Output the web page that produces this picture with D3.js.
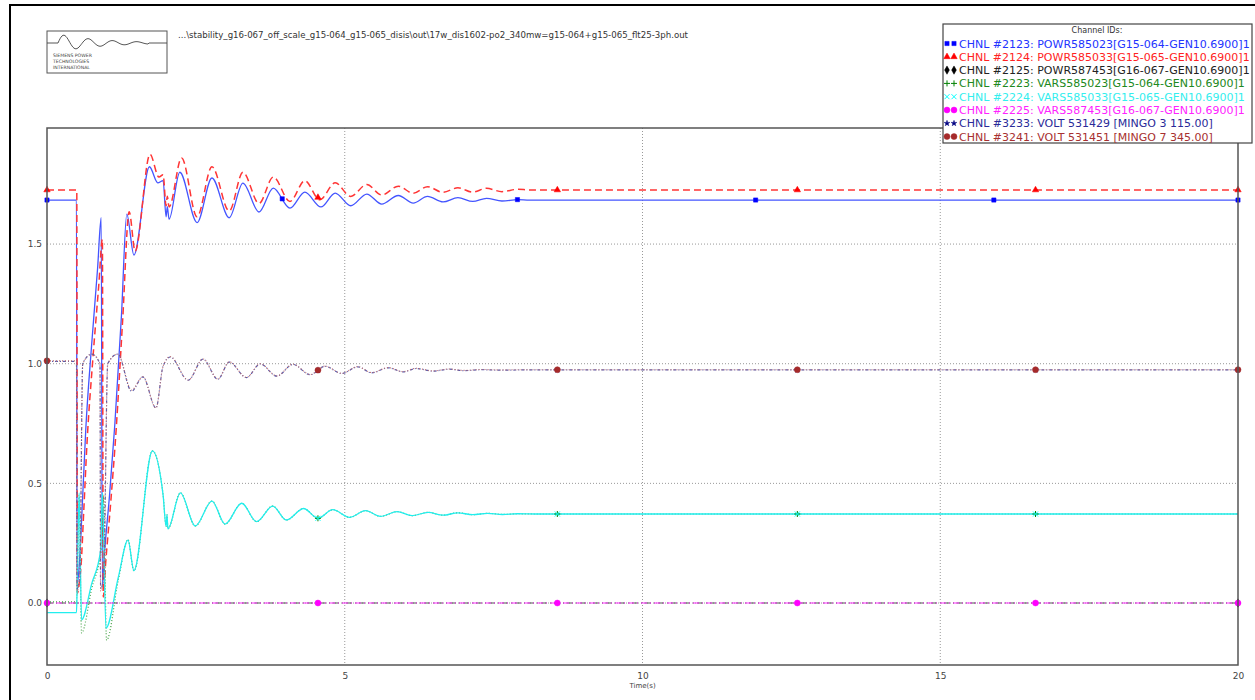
<!DOCTYPE html>
<html lang="en">
<head>
<meta charset="UTF-8">
<title>Channel plot</title>
<style>
body { margin: 0; background: #fff; }
svg { display: block; font-family: "DejaVu Sans", sans-serif; }
.grid line { stroke: #999; stroke-width: 1; stroke-dasharray: 1,2; }
.tick-label { font-size: 9px; fill: #444; }
</style>
</head>
<body>
<div id="chart"></div>
<script src="https://cdnjs.cloudflare.com/ajax/libs/d3/7.8.5/d3.min.js"></script>
<script>

// time (s) and values, one array pair per channel
let powr585023_t = [0, 0.495, 0.505, 0.53, 0.55, 0.6, 0.65, 0.75, 0.85, 0.91, 0.93, 0.96, 1.05, 1.14, 1.25, 1.34, 1.46, 1.72, 1.86, 1.95, 2.0, 2.02, 2.05, 2.23, 2.52, 2.77, 3.06, 3.29, 3.56, 3.8, 4.08, 4.33, 4.6, 4.84, 5.1, 5.37, 5.62, 5.9, 6.15, 6.39, 6.65, 6.9, 7.15, 7.38, 7.64, 7.91, 8.1, 20];
let powr585023_v = [1.684, 1.684, 0.08, 0.12, 0.19, 0.45, 0.72, 1.08, 1.40, 1.61, 0.075, 0.19, 0.45, 0.75, 1.2, 1.625, 1.454, 1.823, 1.756, 1.765, 1.614, 1.656, 1.604, 1.80, 1.59, 1.776, 1.61, 1.755, 1.634, 1.734, 1.65, 1.717, 1.655, 1.713, 1.66, 1.709, 1.667, 1.703, 1.671, 1.699, 1.676, 1.694, 1.678, 1.691, 1.68, 1.686, 1.684, 1.684];

let powr585033_t = [0, 0.5, 0.51, 0.54, 0.57, 0.62, 0.67, 0.77, 0.87, 0.93, 0.945, 0.98, 1.07, 1.16, 1.27, 1.38, 1.48, 1.73, 1.88, 1.95, 2.0, 2.02, 2.05, 2.26, 2.52, 2.77, 3.06, 3.29, 3.56, 3.8, 4.08, 4.33, 4.58, 4.84, 5.1, 5.37, 5.62, 5.9, 6.15, 6.39, 6.65, 6.9, 7.15, 7.38, 7.64, 7.91, 8.1, 20];
let powr585033_v = [1.726, 1.726, 0.04, 0.08, 0.15, 0.40, 0.66, 1.02, 1.33, 1.52, 0.025, 0.15, 0.42, 0.72, 1.18, 1.635, 1.47, 1.875, 1.78, 1.79, 1.66, 1.70, 1.655, 1.86, 1.614, 1.823, 1.638, 1.80, 1.67, 1.78, 1.678, 1.765, 1.685, 1.756, 1.699, 1.749, 1.705, 1.742, 1.712, 1.74, 1.716, 1.735, 1.717, 1.733, 1.719, 1.729, 1.726, 1.726];

let powr587453_t = [0, 20];
let powr587453_v = [0, 0];

let vars585023_t = [0, 0.495, 0.505, 0.54, 0.58, 0.75, 0.92, 0.95, 1.0, 1.2, 1.36, 1.46, 1.77, 1.95, 2.0, 2.015, 2.03, 2.24, 2.49, 2.77, 2.99, 3.27, 3.52, 3.79, 4.02, 4.31, 4.55, 4.8, 5.08, 5.35, 5.6, 5.88, 6.13, 6.4, 6.65, 6.9, 7.15, 7.4, 7.65, 7.9, 8.2, 20];
let vars585023_v = [0.005, 0.005, 0.05, 0.45, -0.125, 0.06, 0.236, 0.45, -0.155, 0.1, 0.265, 0.135, 0.636, 0.45, 0.32, 0.37, 0.31, 0.46, 0.322, 0.426, 0.33, 0.417, 0.34, 0.405, 0.347, 0.395, 0.354, 0.39, 0.358, 0.386, 0.362, 0.382, 0.365, 0.379, 0.367, 0.377, 0.369, 0.375, 0.37, 0.373, 0.372, 0.372];

let vars585033_t = [0, 0.495, 0.505, 0.54, 0.58, 0.75, 0.9, 0.93, 0.99, 1.2, 1.36, 1.46, 1.77, 1.95, 2.0, 2.015, 2.03, 2.24, 2.49, 2.77, 2.99, 3.27, 3.52, 3.79, 4.02, 4.31, 4.55, 4.8, 5.08, 5.35, 5.6, 5.88, 6.13, 6.4, 6.65, 6.9, 7.15, 7.4, 7.65, 7.9, 8.2, 20];
let vars585033_v = [-0.04, -0.04, 0.05, 0.46, -0.07, 0.08, 0.22, 0.46, -0.105, 0.11, 0.263, 0.135, 0.636, 0.45, 0.32, 0.37, 0.31, 0.46, 0.322, 0.426, 0.33, 0.417, 0.34, 0.405, 0.347, 0.395, 0.354, 0.39, 0.358, 0.386, 0.362, 0.382, 0.365, 0.379, 0.367, 0.377, 0.369, 0.375, 0.37, 0.373, 0.372, 0.372];

let vars587453_t = [0, 20];
let vars587453_v = [0, 0];

let volt531429_t = [0, 0.495, 0.505, 0.55, 0.6, 0.75, 0.89, 0.9, 0.95, 1.02, 1.19, 1.42, 1.61, 1.83, 1.95, 2.07, 2.37, 2.62, 2.87, 3.06, 3.35, 3.58, 3.86, 4.13, 4.42, 4.67, 4.95, 5.22, 5.45, 5.73, 5.98, 6.2, 6.48, 6.75, 7.0, 7.3, 7.6, 8.0, 20];
let volt531429_v = [1.01, 1.01, 0.06, 0.1, 1.0, 1.04, 1.0, 0.06, 0.1, 1.0, 1.04, 0.885, 0.945, 0.815, 0.99, 1.028, 0.931, 1.019, 0.935, 1.007, 0.942, 0.999, 0.948, 0.997, 0.954, 0.989, 0.959, 0.987, 0.962, 0.983, 0.966, 0.98, 0.969, 0.977, 0.971, 0.975, 0.973, 0.974, 0.974];

let volt531451_t = [0, 0.495, 0.505, 0.55, 0.6, 0.75, 0.89, 0.9, 0.95, 1.02, 1.19, 1.42, 1.61, 1.83, 1.95, 2.07, 2.37, 2.62, 2.87, 3.06, 3.35, 3.58, 3.86, 4.13, 4.42, 4.67, 4.95, 5.22, 5.45, 5.73, 5.98, 6.2, 6.48, 6.75, 7.0, 7.3, 7.6, 8.0, 20];
let volt531451_v = [1.012, 1.012, 0.05, 0.1, 1.0, 1.04, 1.0, 0.05, 0.1, 1.0, 1.04, 0.89, 0.946, 0.815, 0.99, 1.03, 0.932, 1.02, 0.936, 1.008, 0.943, 1.0, 0.949, 0.998, 0.955, 0.99, 0.96, 0.988, 0.963, 0.984, 0.967, 0.981, 0.97, 0.978, 0.972, 0.976, 0.974, 0.975, 0.975];

// where the markers sit along each line (s)
let marks_a = [0, 3.95, 7.9, 11.9, 15.9, 20];
let marks_b = [0, 4.55, 8.57, 12.6, 16.6, 20];
let marks_c = [4.55, 8.57, 12.6, 16.6];

let xTicks = [0, 5, 10, 15, 20];
let yTicks = [0.0, 0.5, 1.0, 1.5];

let channels = [
  { label: "CHNL #2123: POWR585023[G15-064-GEN10.6900]1", t: powr585023_t, v: powr585023_v, color: "#0000ff", line: "#4455ff", dash: null, width: 1.3, marker: "square", marks: marks_a, text: "#2233ff" },
  { label: "CHNL #2124: POWR585033[G15-065-GEN10.6900]1", t: powr585033_t, v: powr585033_v, color: "#ff0000", line: "#ff3535", dash: "7,4", width: 1.5, marker: "triangle", marks: marks_b, text: "#ff2222" },
  { label: "CHNL #2125: POWR587453[G16-067-GEN10.6900]1", t: powr587453_t, v: powr587453_v, color: "#000000", line: "#555555", dash: "6,3,1,3", width: 1.2, marker: "diamond", marks: [0, 20], text: "#222222" },
  { label: "CHNL #2223: VARS585023[G15-064-GEN10.6900]1", t: vars585023_t, v: vars585023_v, color: "#008000", line: "#40a040", dash: "1,2", width: 1.2, marker: "plus", marks: marks_c, text: "#208820" },
  { label: "CHNL #2224: VARS585033[G15-065-GEN10.6900]1", t: vars585033_t, v: vars585033_v, color: "#00ffff", line: "#22eeee", dash: null, width: 1.3, marker: "cross", marks: marks_c, text: "#33eeee" },
  { label: "CHNL #2225: VARS587453[G16-067-GEN10.6900]1", t: vars587453_t, v: vars587453_v, color: "#ff00ff", line: "#ff33ff", dash: "6,3,1,3", width: 1.2, marker: "circle", marks: marks_b, text: "#ff22ff", dashOffset: 4 },
  { label: "CHNL #3233: VOLT 531429 [MINGO 3 115.00]", t: volt531429_t, v: volt531429_v, color: "#000080", line: "#5a5aa8", dash: "3,2,1,2", width: 1.2, marker: "star", marks: marks_b, text: "#2a2a99" },
  { label: "CHNL #3241: VOLT 531451 [MINGO 7 345.00]", t: volt531451_t, v: volt531451_v, color: "#a52a2a", line: "#c07070", dash: "1,2", width: 1.1, marker: "circle", marks: marks_b, text: "#a83030" }
];

const W = 1255, H = 700;
const svg = d3.select("#chart").append("svg").attr("width", W).attr("height", H);

const x = d3.scaleLinear().domain([0, 20]).range([47, 1238]);
const y = d3.scaleLinear().domain([-0.259, 1.985]).range([665, 128]);

// page frame
svg.append("path").attr("d", "M10,700 V5 H1255").attr("fill", "none").attr("stroke", "#000").attr("stroke-width", 2);

// logo box
const logo = svg.append("g").attr("transform", "translate(47,31)");
logo.append("rect").attr("width", 120).attr("height", 42).attr("fill", "#fff").attr("stroke", "#555").attr("stroke-width", 1);
let wave = [];
for (let i = 0; i <= 120; i++) {
  let py = 12;
  if (i > 11 && i < 102) {
    let s = (i - 11) / 91;
    py = 12 - 9 * Math.exp(-2.2 * s) * Math.sin(s * Math.PI * 7.5);
  }
  wave.push([i, py]);
}
logo.append("path").attr("d", d3.line()(wave)).attr("fill", "none").attr("stroke", "#444").attr("stroke-width", 0.9);
["SIEMENS POWER", "TECHNOLOGIES", "INTERNATIONAL"].forEach((s, i) => {
  logo.append("text").attr("x", 6).attr("y", 26 + i * 5.8).attr("font-size", 4.6).attr("fill", "#444").text(s);
});

// file name
svg.append("text").attr("x", 178).attr("y", 38).attr("font-size", 8.2).attr("fill", "#333")
  .attr("textLength", 510).attr("lengthAdjust", "spacingAndGlyphs")
  .text("...\\stability_g16-067_off_scale_g15-064_g15-065_disis\\out\\17w_dis1602-po2_340mw=g15-064+g15-065_flt25-3ph.out");

// grid
const grid = svg.append("g").attr("class", "grid");
grid.selectAll("line.gx").data(xTicks.slice(1, -1)).join("line").attr("class", "gx")
  .attr("x1", d => x(d)).attr("x2", d => x(d)).attr("y1", 128).attr("y2", 665);
grid.selectAll("line.gy").data(yTicks).join("line").attr("class", "gy")
  .attr("x1", 47).attr("x2", 1238).attr("y1", d => y(d)).attr("y2", d => y(d));

// axes tick labels
const xAxis = d3.axisBottom(x).tickValues(xTicks).tickSize(0).tickPadding(8).tickFormat(d3.format("d"));
const gx = svg.append("g").attr("transform", "translate(0,665)").call(xAxis);
gx.select(".domain").remove();
gx.selectAll("text").attr("class", "tick-label").attr("font-family", "DejaVu Sans");
const yAxis = d3.axisLeft(y).tickValues(yTicks).tickSize(0).tickPadding(5).tickFormat(d3.format(".1f"));
const gy = svg.append("g").attr("transform", "translate(47,0)").call(yAxis);
gy.select(".domain").remove();
gy.selectAll("text").attr("class", "tick-label").attr("font-family", "DejaVu Sans");

svg.append("text").attr("x", x(10)).attr("y", 688).attr("text-anchor", "middle")
  .attr("font-size", 7).attr("fill", "#444").text("Time(s)");

// clip for lines
svg.append("clipPath").attr("id", "plotclip").append("rect")
  .attr("x", 47).attr("y", 128).attr("width", 1191).attr("height", 537);

const plot = svg.append("g").attr("clip-path", "url(#plotclip)");
const line = d3.line().x(d => x(d[0])).y(d => y(d[1])).curve(d3.curveMonotoneX);

function valueAt(c, t) {
  const i = d3.bisectRight(c.t, t);
  if (i <= 0) return c.v[0];
  if (i >= c.t.length) return c.v[c.v.length - 1];
  const t0 = c.t[i - 1], t1 = c.t[i];
  const f = (t - t0) / (t1 - t0);
  return c.v[i - 1] + f * (c.v[i] - c.v[i - 1]);
}

const symbols = {
  square: d3.symbol().type(d3.symbolSquare).size(18)(),
  triangle: d3.symbol().type(d3.symbolTriangle).size(18)(),
  diamond: d3.symbol().type(d3.symbolDiamond).size(20)(),
  plus: "M-3,0H3M0,-3V3",
  cross: "M-2.5,-2.5L2.5,2.5M-2.5,2.5L2.5,-2.5",
  circle: d3.symbol().type(d3.symbolCircle).size(28)(),
  star: d3.symbol().type(d3.symbolStar).size(10)()
};
function drawSymbol(g, kind, color, px, py) {
  const open = kind === "plus" || kind === "cross";
  g.append("path").attr("d", symbols[kind]).attr("transform", `translate(${px},${py})`)
    .attr("fill", open ? "none" : color).attr("stroke", color).attr("stroke-width", open ? 1 : 0.5);
}

// later channels drawn on top, as in the reference
channels.forEach(c => {
  const pts = c.t.map((t, i) => [t, c.v[i]]);
  plot.append("path").attr("d", line(pts)).attr("fill", "none")
    .attr("stroke", c.line).attr("stroke-width", c.width)
    .attr("stroke-dasharray", c.dash).attr("stroke-dashoffset", c.dashOffset || 0);
  c.marks.forEach(t => drawSymbol(svg, c.marker, c.color, x(t), y(valueAt(c, t))));
});

// plot frame
svg.append("rect").attr("x", 47).attr("y", 128).attr("width", 1191).attr("height", 537)
  .attr("fill", "none").attr("stroke", "#555").attr("stroke-width", 1.5);

// legend
const lg = svg.append("g");
lg.append("rect").attr("x", 943).attr("y", 24).attr("width", 309).attr("height", 119)
  .attr("fill", "#fff").attr("stroke", "#444").attr("stroke-width", 1.2);
lg.append("text").attr("x", 1097).attr("y", 33).attr("text-anchor", "middle")
  .attr("font-size", 8).attr("fill", "#333").text("Channel IDs:");
channels.forEach((c, i) => {
  const ry = 43.5 + i * 13.3;
  drawSymbol(lg, c.marker, c.color, 947, ry);
  drawSymbol(lg, c.marker, c.color, 954, ry);
  lg.append("text").attr("x", 959).attr("y", ry + 4).attr("font-size", 11)
    .attr("fill", c.text).text(c.label);
});

</script>
</body>
</html>
